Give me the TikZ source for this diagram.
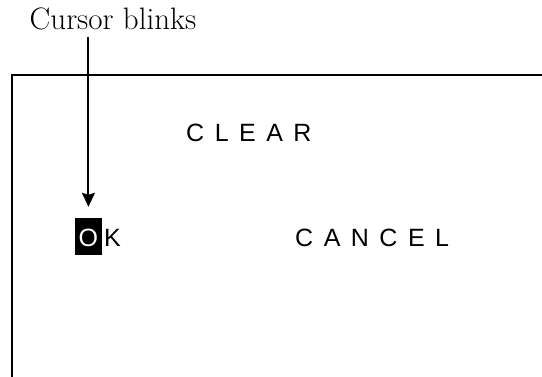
\documentclass[tikz,border=0pt]{standalone}
\usepackage{fontspec}
\newfontfamily\panelfont[LetterSpace=42]{Liberation Sans}
\newfontfamily\plainfont{Liberation Sans}
\usetikzlibrary{arrows.meta,positioning}
\begin{document}
\begin{tikzpicture}[x=1pt,y=-1pt,
        key/.style={font=\fontsize{25}{30}\panelfont,inner sep=0pt,anchor=base west}]
        \useasboundingbox (0,0) rectangle (542,377);
        \draw[line width=2pt] (12,377) -- (12,75) -- (542,75);
        \node[font=\fontsize{31}{36}\selectfont,inner sep=0pt,anchor=base] (T) at (113,30) {Cursor blinks};
        \node[key] (C) at (186,142) {CLEAR};
        \node[font=\fontsize{25}{30}\plainfont,fill=black,text=white,anchor=base west,
              inner xsep=3.5pt,inner ysep=0pt,text height=29pt,text depth=8pt] (O) at (75,247) {O};
        \node[key] (K) at (104,247) {K};
        \node[key] (N) at (295,247) {CANCEL};
        \draw[line width=2pt,-{Stealth[length=14pt,width=13pt,inset=2pt]},shorten >=11pt] (O |- T.south) ++(0,6) -- (O.north);
    \end{tikzpicture}
\end{document}
